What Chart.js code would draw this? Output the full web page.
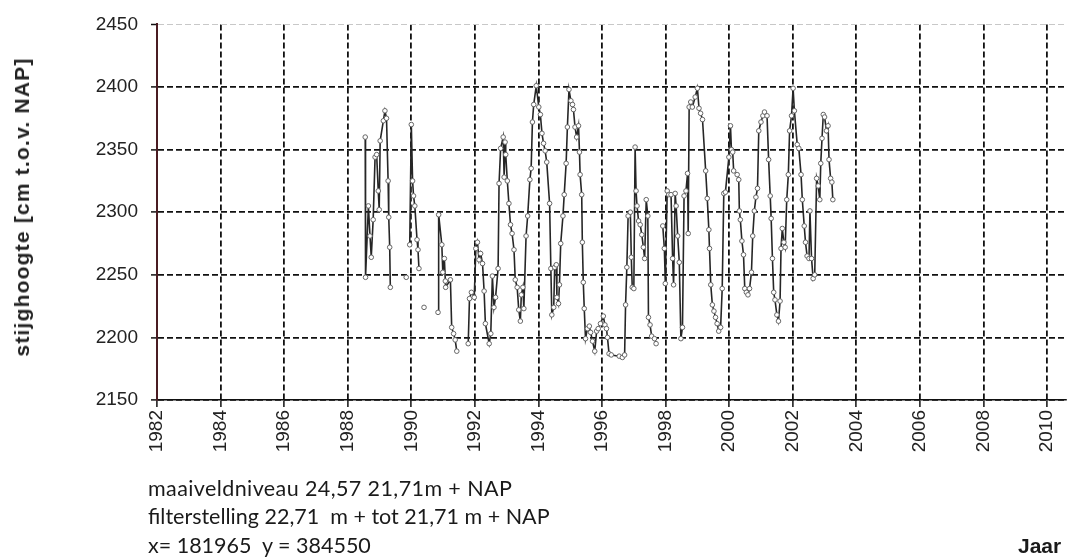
<!DOCTYPE html>
<html>
<head>
<meta charset="utf-8">
<script src="https://cdn.jsdelivr.net/npm/chart.js@4.4.1/dist/chart.umd.min.js"></script>
<style>
  body { margin: 0; background: #fff; }
  #wrap { position: relative; width: 1073px; height: 559px; overflow: hidden; }
  #chart { position: absolute; left: 0; top: 0; }
  .txt { position: absolute; white-space: pre; color: #1a1a1a; }
  .note { font-family: Lato, "Open Sans", sans-serif; font-size: 21.5px; left: 148px; }
  #ytitle { font-family: "Liberation Sans", Arial, sans-serif; font-weight: bold; font-size: 21px;
            letter-spacing: 1.2px; color: #222;
            left: 22px; top: 207px; transform: translate(-50%, -50%) rotate(-90deg); }
  #xtitle { font-family: "Liberation Sans", Arial, sans-serif; font-weight: bold; font-size: 21px;
            left: 1018px; top: 534px; }
</style>
</head>
<body>
<div id="wrap">
  <canvas id="chart" width="1073" height="559"></canvas>
  <div class="txt" id="ytitle">stijghoogte [cm t.o.v. NAP]</div>
  <div class="txt note" style="top:475px; letter-spacing:0.4px;">maaiveldniveau 24,57 21,71m + NAP</div>
  <div class="txt note" style="top:503px;">filterstelling 22,71  m + tot 21,71 m + NAP</div>
  <div class="txt note" style="top:532px;">x= 181965  y = 384550</div>
  <div class="txt" id="xtitle">Jaar</div>
</div>
<script>
// meetmomenten (jaar) en stijghoogte (cm t.o.v. NAP); null = onderbreking
const years = [
  1988.55, 1988.56, 1988.65, 1988.70, 1988.74, 1988.80, 1988.86, 1988.91, 1988.96, 1988.99,
  1989.02, 1989.12, 1989.17, 1989.22, 1989.27, 1989.29, 1989.32, 1989.34, 1989.60,
  1989.84, 1989.90,
  1989.95, 1990.00, 1990.04, 1990.07, 1990.11, 1990.18, 1990.21, 1990.24, 1990.32,
  1990.40, 1990.60,
  1990.84, 1990.86, 1990.96, 1990.99, 1991.04, 1991.07, 1991.08, 1991.23, 1991.27, 1991.33,
  1991.38, 1991.43, 1991.60,
  1991.79, 1991.83, 1991.89, 1991.98, 1992.03, 1992.08, 1992.13, 1992.18, 1992.24, 1992.29,
  1992.33, 1992.45, 1992.50, 1992.55, 1992.60, 1992.65, 1992.73, 1992.76, 1992.81, 1992.89,
  1992.92, 1992.95, 1992.97, 1993.02, 1993.07, 1993.12, 1993.17, 1993.23, 1993.27, 1993.33,
  1993.38, 1993.43, 1993.46, 1993.51, 1993.54, 1993.61, 1993.66, 1993.73, 1993.77, 1993.81,
  1993.85, 1993.93, 1994.01, 1994.06, 1994.11, 1994.16, 1994.21, 1994.26, 1994.35, 1994.39,
  1994.42, 1994.48, 1994.51, 1994.56, 1994.58, 1994.63, 1994.66, 1994.70, 1994.77, 1994.81,
  1994.87, 1994.91, 1994.96, 1995.02, 1995.07, 1995.10, 1995.15, 1995.20, 1995.26, 1995.29,
  1995.31, 1995.36, 1995.38, 1995.41, 1995.44, 1995.48, 1995.54, 1995.60, 1995.64, 1995.70,
  1995.77, 1995.83, 1995.88, 1995.95, 1996.04, 1996.09, 1996.14, 1996.17, 1996.22, 1996.29,
  1996.54, 1996.64, 1996.71, 1996.74, 1996.78, 1996.82, 1996.89, 1996.92, 1996.95, 1997.00,
  1997.04, 1997.07, 1997.10, 1997.15, 1997.20, 1997.25, 1997.30, 1997.34, 1997.39, 1997.44,
  1997.46, 1997.51, 1997.56, 1997.65, 1997.70, 1997.80,
  1997.91, 1997.96, 1997.99, 1998.05, 1998.10, 1998.17, 1998.22, 1998.25, 1998.30, 1998.33,
  1998.38, 1998.43, 1998.48, 1998.53, 1998.58, 1998.64, 1998.69, 1998.71, 1998.74, 1998.79,
  1998.84, 1998.93, 1999.00, 1999.05, 1999.10, 1999.16, 1999.26, 1999.31, 1999.36, 1999.38,
  1999.42, 1999.47, 1999.52, 1999.57, 1999.62, 1999.67, 1999.73, 1999.78, 1999.83, 1999.88,
  1999.99, 2000.04, 2000.07, 2000.11, 2000.14, 2000.25, 2000.30, 2000.32, 2000.35, 2000.40,
  2000.45, 2000.49, 2000.54, 2000.59, 2000.64, 2000.70, 2000.74, 2000.79, 2000.84, 2000.89,
  2000.93, 2001.00, 2001.06, 2001.11, 2001.19, 2001.24, 2001.29, 2001.32, 2001.36, 2001.40,
  2001.44, 2001.50, 2001.55, 2001.60, 2001.63, 2001.67, 2001.72, 2001.76, 2001.81, 2001.86,
  2001.90, 2001.96, 2002.01, 2002.05, 2002.14, 2002.19, 2002.26, 2002.30, 2002.36, 2002.40,
  2002.45, 2002.51, 2002.54, 2002.59, 2002.64, 2002.69, 2002.75, 2002.80, 2002.85, 2002.88,
  2002.92, 2002.96, 2003.00, 2003.06, 2003.11, 2003.14, 2003.19, 2003.23, 2003.26
];
const levels = [
  2360, 2248, 2305, 2281, 2264, 2294, 2344, 2346, 2317, 2302,
  2357, 2373, 2381, 2375, 2325, 2296, 2272, 2240, null,
  2248, null,
  2274, 2370, 2325, 2313, 2305, 2278, 2270, 2255, null,
  2224, null,
  2220, 2298, 2274, 2252, 2263, 2245, 2240, 2246, 2208, 2203,
  2198, 2189, null,
  2195, 2231, 2236, 2232, 2271, 2276, 2262, 2267, 2259, 2237,
  2211, 2195, 2203, 2249, 2224, 2232, 2255, 2323, 2351, 2360,
  2328, 2356, 2346, 2325, 2307, 2290, 2283, 2270, 2246, 2240,
  2222, 2213, 2234, 2240, 2223, 2281, 2297, 2326, 2335, 2372,
  2386, 2401, 2384, 2378, 2363, 2355, 2349, 2340, 2307, 2255,
  2218, 2224, 2256, 2258, 2232, 2227, 2242, 2275, 2297, 2314,
  2339, 2368, 2398, 2389, 2386, 2382, 2368, 2360, 2369, 2348,
  2330, 2314, 2276, 2244, 2223, 2199, 2207, 2209, 2204, 2197,
  2189, 2205, 2207, 2211, 2217, 2210, 2207, 2200, 2187, 2186,
  2185, 2184, 2186, 2226, 2256, 2297, 2300, 2264, 2240, 2239,
  2352, 2317, 2305, 2293, 2290, 2282, 2272, 2263, 2310, 2297,
  2216, 2210, 2201, 2199, 2195, null,
  2289, 2271, 2243, 2317, 2314, 2314, 2263, 2242, 2315, 2305,
  2281, 2260, 2199, 2208, 2313, 2317, 2331, 2283, 2384, 2388,
  2384, 2392, 2399, 2383, 2379, 2374, 2333, 2311, 2286, 2271,
  2242, 2226, 2221, 2216, 2211, 2205, 2208, 2239, 2315, 2316,
  2344, 2369, 2350, 2348, 2333, 2330, 2326, 2301, 2294, 2277,
  2266, 2239, 2236, 2234, 2239, 2252, 2281, 2301, 2312, 2319,
  2365, 2372, 2377, 2380, 2377, 2342, 2313, 2295, 2263, 2236,
  2230, 2218, 2213, 2229, 2271, 2287, 2276, 2272, 2310, 2330,
  2365, 2377, 2399, 2381, 2354, 2351, 2330, 2310, 2289, 2276,
  2265, 2263, 2301, 2263, 2247, 2250, 2327, 2321, 2310, 2339,
  2359, 2378, 2376, 2365, 2369, 2342, 2327, 2324, 2310
];

const yearMin = 1982;
const yearMax = 2010.59;
const levelMin = 2150;
const levelMax = 2450;

const points = years.map((yr, i) => ({ x: yr, y: levels[i] }));

const tickFont = { family: '"Liberation Sans", Arial, sans-serif', size: 19 };

new Chart(document.getElementById('chart'), {
  type: 'line',
  data: {
    datasets: [{
      data: points,
      borderColor: '#262626',
      borderWidth: 1.6,
      pointRadius: 2.3,
      pointBorderWidth: 1,
      pointBorderColor: '#666',
      pointBackgroundColor: '#fff',
      spanGaps: false,
      tension: 0
    }]
  },
  options: {
    responsive: false,
    animation: false,
    layout: { padding: { top: 19, right: 0, left: 0, bottom: 0 } },
    plugins: { legend: { display: false }, tooltip: { enabled: false } },
    scales: {
      x: {
        type: 'linear',
        min: yearMin,
        max: yearMax,
        afterFit: axis => { axis.height = 159; },
        ticks: {
          stepSize: 2,
          includeBounds: false,
          maxRotation: 90,
          minRotation: 90,
          padding: 3,
          color: '#222',
          font: tickFont,
          callback: v => String(v)
        },
        grid: {
          color: '#111',
          lineWidth: 1.8,
          tickLength: 7,
          tickColor: '#111',
          tickWidth: 1.5
        },
        border: { color: '#111', width: 1.5, dash: [6, 3] }
      },
      y: {
        min: levelMin,
        max: levelMax,
        afterFit: axis => { axis.width = 157; },
        ticks: {
          stepSize: 50,
          padding: 13,
          color: '#222',
          font: tickFont,
          callback: v => String(v)
        },
        grid: {
          color: ctx => (ctx.tick && ctx.tick.value === levelMax) ? '#c8c8c8' : '#111',
          lineWidth: ctx => (ctx.tick && ctx.tick.value === levelMax) ? 1 : 1.8,
          tickLength: 6,
          tickColor: '#111',
          tickWidth: 1.5
        },
        border: { color: '#4a1c22', width: 2, dash: [6, 3] }
      }
    }
  }
});
</script>
</body>
</html>
